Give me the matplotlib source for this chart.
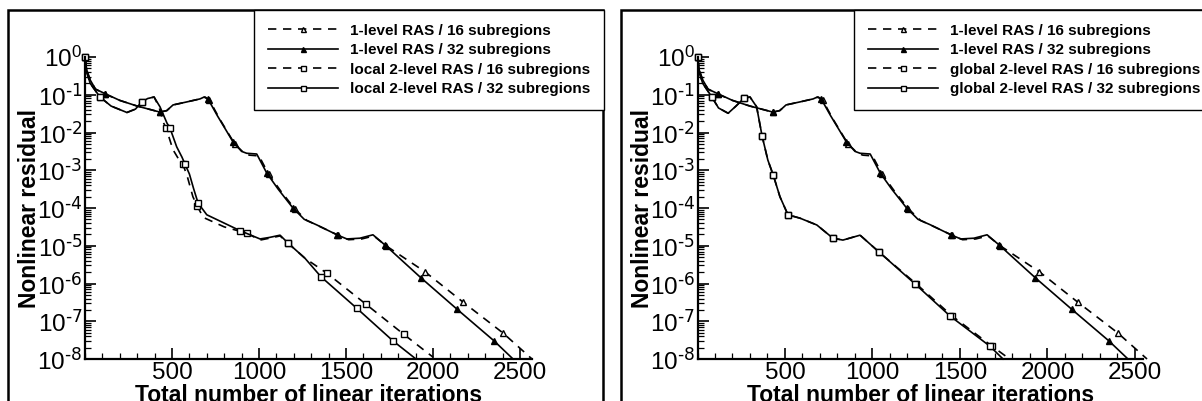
import numpy as np
import matplotlib
matplotlib.use('Agg')
import matplotlib.pyplot as plt
from matplotlib.patches import Rectangle
from matplotlib.ticker import MultipleLocator, LogLocator, NullFormatter, FuncFormatter

plt.rcParams['font.family'] = ['Liberation Sans', 'DejaVu Sans']
plt.rcParams['mathtext.default'] = 'regular'

# ---- data (x = linear iterations, y = log10 residual) ----
# 1-level RAS, 32 subregions (same in both panels)
one32_x = [0, 10, 30, 60, 115, 200, 300, 431, 470, 506, 585, 661, 685, 708, 760, 851, 900,
           929, 987, 1044, 1110, 1195, 1260, 1333, 1448, 1505, 1580, 1655, 1724, 1931, 2138,
           2351, 2460]
one32_y = [0, -0.35, -0.61, -0.85, -0.97, -1.15, -1.3, -1.46, -1.42, -1.27, -1.19, -1.11,
           -1.06, -1.12, -1.55, -2.25, -2.5, -2.55, -2.57, -3.07, -3.5, -4.0, -4.3, -4.45,
           -4.71, -4.82, -4.8, -4.71, -4.98, -5.85, -6.68, -7.52, -8.0]
one32_mk = [0, 4, 7, 13, 15, 19, 21, 24, 28, 29, 30, 31]

# 1-level RAS, 16 subregions
one16_x = [0, 10, 30, 60, 115, 200, 300, 431, 470, 506, 585, 661, 690, 715, 775, 860, 915,
           945, 1000, 1055, 1125, 1205, 1275, 1345, 1455, 1515, 1590, 1660, 1730, 1954, 2172,
           2402, 2569]
one16_y = [0, -0.35, -0.61, -0.85, -0.98, -1.15, -1.3, -1.46, -1.42, -1.27, -1.19, -1.11,
           -1.06, -1.14, -1.65, -2.3, -2.55, -2.6, -2.62, -3.1, -3.55, -4.02, -4.33, -4.48,
           -4.72, -4.84, -4.82, -4.74, -5.0, -5.69, -6.49, -7.31, -8.0]
one16_mk = [0, 4, 7, 13, 15, 19, 21, 24, 28, 29, 30, 31]

# local 2-level RAS, 32 subregions (left panel)
loc32_x = [0, 10, 30, 86, 150, 241, 290, 327, 360, 397, 431, 471, 488, 527, 557, 575, 600,
           625, 650, 700, 800, 891, 1006, 1060, 1121, 1167, 1264, 1356, 1563, 1770, 1902]
loc32_y = [0, -0.4, -0.7, -1.06, -1.3, -1.47, -1.38, -1.19, -1.1, -1.06, -1.32, -1.75,
           -1.88, -2.38, -2.65, -2.84, -3.1, -3.5, -3.87, -4.18, -4.4, -4.6, -4.82, -4.78,
           -4.72, -4.93, -5.33, -5.82, -6.66, -7.52, -8.0]
loc32_mk = [0, 3, 7, 12, 15, 18, 21, 25, 27, 28, 29]

# local 2-level RAS, 16 subregions (left panel)
loc16_x = [0, 10, 30, 86, 150, 241, 290, 327, 360, 397, 425, 452, 466, 505, 540, 563, 590,
           620, 645, 680, 800, 931, 1006, 1060, 1121, 1167, 1264, 1391, 1615, 1833, 2000]
loc16_y = [0, -0.4, -0.7, -1.06, -1.3, -1.47, -1.38, -1.19, -1.1, -1.06, -1.32, -1.75,
           -1.88, -2.45, -2.72, -2.84, -3.2, -3.7, -3.95, -4.25, -4.5, -4.67, -4.85, -4.8,
           -4.74, -4.93, -5.33, -5.73, -6.55, -7.35, -7.95]
loc16_mk = [0, 3, 7, 12, 15, 18, 21, 25, 27, 28, 29]

# global 2-level RAS, 32 subregions (right panel)
glo32_x = [0, 10, 30, 82, 120, 175, 220, 266, 300, 338, 369, 402, 433, 471, 517, 586, 682,
           774, 831, 929, 1036, 1243, 1443, 1671, 1746]
glo32_y = [0, -0.4, -0.7, -1.06, -1.35, -1.49, -1.3, -1.09, -1.06, -1.32, -2.09, -2.73,
           -3.13, -3.7, -4.18, -4.27, -4.45, -4.8, -4.85, -4.72, -5.16, -6.01, -6.86, -7.66,
           -8.0]
glo32_mk = [0, 3, 7, 10, 12, 14, 17, 20, 21, 22, 23]

# global 2-level RAS, 16 subregions (right panel)
glo16_x = [0, 10, 30, 82, 120, 175, 220, 266, 300, 338, 369, 402, 433, 471, 517, 586, 682,
           774, 831, 929, 1036, 1250, 1455, 1683, 1769]
glo16_y = [0, -0.4, -0.7, -1.06, -1.35, -1.49, -1.3, -1.09, -1.06, -1.32, -2.09, -2.73,
           -3.13, -3.7, -4.18, -4.27, -4.45, -4.8, -4.85, -4.72, -5.16, -6.01, -6.86, -7.66,
           -7.95]
glo16_mk = [0, 3, 7, 10, 12, 14, 17, 20, 21, 22, 23]

x_ticks = [500, 1000, 1500, 2000, 2500]

W, H = 1202, 401
fig = plt.figure(figsize=(W / 100, H / 100), dpi=100)

dash = (0, (5, 4))


def decade(v, pos):
	# short hyphen in the exponent, as in the original
	e = int(round(np.log10(v)))
	if e < 0:
		return r'$10^{\text{-%d}}$' % (-e)
	return r'$10^{%d}$' % e


def draw(ax, x, y, mk, ls, marker, face, label):
	ax.plot(x, 10.0 ** np.array(y), color='black', lw=1.2, linestyle=ls, marker=marker,
			markevery=mk, markersize=4.5, markerfacecolor=face, markeredgecolor='black',
			markeredgewidth=1.0, clip_on=False, label=label)


def style(ax, xmax):
	ax.set_yscale('log')
	ax.set_xlim(0, xmax)
	ax.set_ylim(1e-8, 1.0)
	ax.spines['top'].set_visible(False)
	ax.spines['right'].set_visible(False)
	ax.spines['left'].set_linewidth(1.6)
	ax.spines['bottom'].set_linewidth(1.6)
	ax.set_xticks(x_ticks)
	ax.xaxis.set_minor_locator(MultipleLocator(100))
	ax.yaxis.set_major_locator(LogLocator(base=10, numticks=20))
	ax.yaxis.set_major_formatter(FuncFormatter(decade))
	ax.yaxis.set_minor_locator(LogLocator(base=10, subs=np.arange(2, 10), numticks=20))
	ax.yaxis.set_minor_formatter(NullFormatter())
	ax.tick_params(which='major', direction='in', length=8, width=1.2, labelsize=17.5)
	ax.tick_params(axis='x', which='major', pad=2)
	ax.tick_params(axis='y', which='major', pad=2)
	ax.tick_params(which='minor', direction='in', length=4, width=0.9)
	ax.set_xlabel('Total number of linear iterations', fontsize=16.5, fontweight='bold',
				  labelpad=0)
	ax.set_ylabel('Nonlinear residual', fontsize=16.5, fontweight='bold', labelpad=-3)


def frame(x0, x1):
	r = Rectangle((x0 / W, -0.05), (x1 - x0) / W, 1.05 - 10 / H, transform=fig.transFigure,
				  fill=False, lw=1.8, edgecolor='black', clip_on=False)
	fig.patches.append(r)


# left panel
ax1 = fig.add_axes([85 / W, 42 / H, 447 / W, 302 / H])
draw(ax1, one16_x, one16_y, one16_mk, dash, '^', 'white', '1-level RAS / 16 subregions')
draw(ax1, one32_x, one32_y, one32_mk, '-', '^', 'black', '1-level RAS / 32 subregions')
draw(ax1, loc16_x, loc16_y, loc16_mk, dash, 's', 'white', 'local 2-level RAS / 16 subregions')
draw(ax1, loc32_x, loc32_y, loc32_mk, '-', 's', 'white', 'local 2-level RAS / 32 subregions')
style(ax1, 2569)

# right panel
ax2 = fig.add_axes([697.5 / W, 42 / H, 445.5 / W, 302 / H])
draw(ax2, one16_x, one16_y, one16_mk, dash, '^', 'white', '1-level RAS / 16 subregions')
draw(ax2, one32_x, one32_y, one32_mk, '-', '^', 'black', '1-level RAS / 32 subregions')
draw(ax2, glo16_x, glo16_y, glo16_mk, dash, 's', 'white', 'global 2-level RAS / 16 subregions')
draw(ax2, glo32_x, glo32_y, glo32_mk, '-', 's', 'white', 'global 2-level RAS / 32 subregions')
style(ax2, 2546)

frame(8, 603)
frame(621, 1260)

for ax, x0 in [(ax1, 254), (ax2, 854)]:
	h, l = ax.get_legend_handles_labels()
	leg = fig.legend(h, l, loc='upper left', bbox_to_anchor=(x0 / W, 1 - 10 / H),
					 borderaxespad=0, fancybox=False, framealpha=1, edgecolor='black',
					 prop={'size': 11, 'weight': 'bold'}, handlelength=4.6, handletextpad=0.8,
					 labelspacing=0.36, borderpad=0.9, markerscale=0.8)
	leg.get_frame().set_linewidth(1.0)

fig.savefig('out.png', dpi=100)
